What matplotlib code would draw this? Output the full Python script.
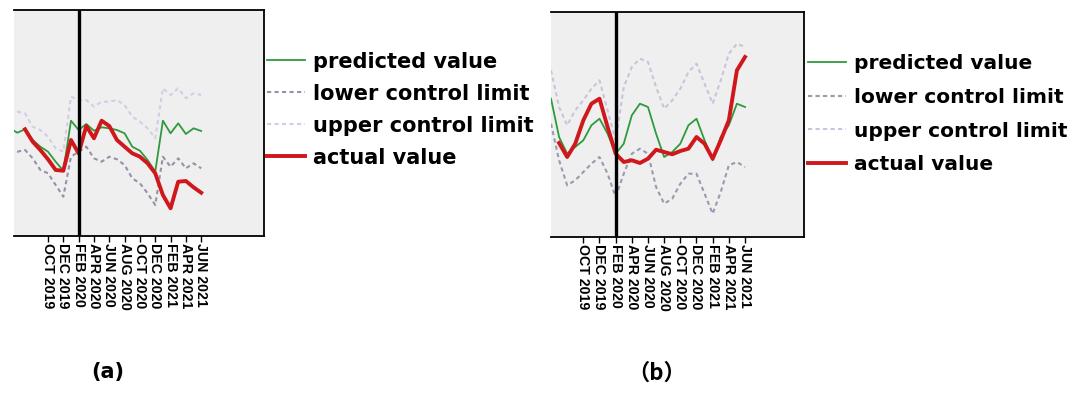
import numpy as np
import matplotlib
matplotlib.use("Agg")
import matplotlib.pyplot as plt

# month index: 0 = JUN 2019 ... 24 = JUN 2021 ; -1 = MAY 2019
months_a = np.arange(-1, 25)
months_b = np.arange(0, 25)

tick_pos = [4, 6, 8, 10, 12, 14, 16, 18, 20, 22, 24]
tick_labels = ['OCT 2019', 'DEC 2019', 'FEB 2020', 'APR 2020', 'JUN 2020', 'AUG 2020',
               'OCT 2020', 'DEC 2020', 'FEB 2021', 'APR 2021', 'JUN 2021']
intervention = 8  # FEB 2020

# panel (a)
pred_a = [107.7, 103.3, 106.7, 96, 89.3, 84.3, 74.3, 65.3, 115.3, 106, 112, 105.3, 108.7,
          107.7, 106, 102.7, 89.3, 85.3, 76, 64.3, 115.3, 102.7, 112.7, 102, 107.7, 105]
actual_a = [np.nan, np.nan, 106.7, 94.3, 86, 76.7, 66, 65.3, 96, 82.7, 110, 97.7, 115.3,
            110, 96, 89.3, 82.7, 79.3, 72.7, 62.7, 41, 27.7, 54.3, 55, 48.7, 43.3]
upper_a = [122.7, 124.3, 122.7, 109.3, 106, 99.3, 87.7, 84.3, 139.3, 136, 136, 129.3, 134.3,
           134.3, 136, 131, 119.3, 114.3, 107.7, 97.7, 147.7, 141, 147.7, 137.7, 142.7, 141]
lower_a = [86, 84.3, 86, 77.7, 66, 62.7, 51, 39.3, 79.3, 84.3, 89.3, 77.7, 74.3,
           79.3, 76.7, 71, 57.7, 52.7, 42.7, 31, 79.3, 69.3, 77.7, 67.7, 72.7, 67.7]

# panel (b)
pred_b = [138.3, 100, 83.3, 90, 96.7, 111.7, 118.3, 103.3, 83.3, 93.3, 121.7, 133.3, 130,
          103.3, 80, 85, 93.3, 111.7, 118.3, 96.7, 76.7, 100, 111.7, 133.3, 130]
actual_b = [np.nan, 94, 80, 93.3, 116.7, 133.3, 138.3, 110, 83.3, 75, 76.7, 74, 78.3,
            87.3, 85, 82.7, 86, 88.3, 100, 93.3, 78.3, 96.7, 116.7, 166.7, 180]
upper_b = [166.7, 130, 111.7, 126.7, 136.7, 148.3, 156.7, 126.7, 96.7, 150, 170, 178.3, 175,
           150, 128.3, 136.7, 148.3, 165, 173.3, 153.3, 133.3, 156.7, 183.3, 193.3, 190]
lower_b = [113.3, 76.7, 51.7, 56.7, 65, 73.3, 80, 63.3, 40, 63.3, 83.3, 88.3, 83.3,
           50, 33.3, 38.3, 53.3, 63.3, 63.3, 43.3, 23.3, 45, 71.7, 75, 70]

labels = ['predicted value', 'lower control limit', 'upper control limit', 'actual value']

fig = plt.figure(figsize=(10.83, 3.93), dpi=100)


def panel(rect, x, pred, lower, upper, actual, xlim, ylim, lower_c, upper_c,
          leg_anchor, leg_fs, row_px):
    ax = fig.add_axes(rect)
    ax.set_facecolor('#efefef')
    l1, = ax.plot(x, pred, color='#2f9a3c', lw=1.3)
    l2, = ax.plot(x, lower, color=lower_c, lw=1.5, ls=(0, (2, 1.6)))
    l3, = ax.plot(x, upper, color=upper_c, lw=1.5, ls=(0, (2, 1.6)))
    l4, = ax.plot(x, actual, color='#d0181c', lw=2.8)
    ax.axvline(intervention, color='black', lw=2.4)
    ax.set_xlim(*xlim)
    ax.set_ylim(*ylim)
    ax.set_yticks([])
    ax.set_xticks(tick_pos)
    ax.set_xticklabels(tick_labels, rotation=270, fontsize=10.2, fontweight='bold',
                       family='Liberation Sans')
    ax.tick_params(axis='x', length=4, width=1, pad=1)
    ax.spines['left'].set_visible(False)
    for s in ['top', 'bottom', 'right']:
        ax.spines[s].set_linewidth(1.3)
    fs_px = leg_fs * 100 / 72
    ax.legend([l1, l2, l3, l4], labels, loc='upper left', bbox_to_anchor=leg_anchor,
              bbox_transform=fig.transFigure, frameon=False,
              prop={'size': leg_fs, 'weight': 'bold', 'family': 'DejaVu Sans'},
              handlelength=38 / fs_px, handletextpad=8 / fs_px,
              labelspacing=(row_px - 0.98 * fs_px) / fs_px, borderpad=0, borderaxespad=0)
    return ax


panel([14 / 1083, 1 - 236 / 393, 250 / 1083, 226 / 393], months_a, pred_a, lower_a, upper_a,
      actual_a, (-0.44, 32.2), (0, 226), '#9a90a8', '#d8cbe6',
      (267 / 1083, 1 - 51.5 / 393), 15, 32.5)
panel([551 / 1083, 1 - 237 / 393, 253 / 1083, 225 / 393], months_b, pred_b, lower_b, upper_b,
      actual_b, (0, 31.3), (0, 225), '#9a9ab0', '#cbc3dc',
      (808 / 1083, 1 - 54 / 393), 14.5, 34.5)

fig.text(108 / 1083, 1 - 372 / 393, '(a)', ha='center', va='center', fontsize=15,
         fontweight='bold', family='DejaVu Sans')
fig.text(657 / 1083, 1 - 373 / 393, '（b）', ha='center', va='center', fontsize=16,
         fontweight='bold', family=['Noto Sans CJK SC', 'DejaVu Sans'])

fig.savefig('out.png', dpi=100)
